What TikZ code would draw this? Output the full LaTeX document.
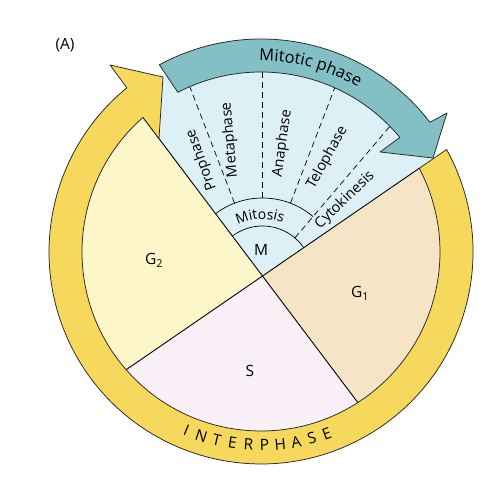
\documentclass[tikz,border=0pt]{standalone}
\usepackage{fontspec}
\setmainfont{Open Sans}
\usetikzlibrary{decorations.text, calc}
\definecolor{ringY}{RGB}{245,216,92}
\definecolor{tealA}{RGB}{130,192,198}
\definecolor{mBlue}{RGB}{221,240,246}
\definecolor{gOne}{RGB}{246,228,199}
\definecolor{gTwo}{RGB}{252,246,200}
\definecolor{sCol}{RGB}{249,241,247}
\begin{document}
\begin{tikzpicture}[x=1pt,y=1pt,
  outl/.style={draw=black!85, line width=0.75pt, line join=round},
  phase/.style={font=\fontsize{14.5}{16}\selectfont, inner sep=0pt},
  dashln/.style={dash pattern=on 6pt off 4pt, line width=0.7pt},
  pieline/.style={line width=0.9pt},
  lbl/.style={font=\fontsize{15.5}{17}\selectfont, inner sep=0pt}]
\useasboundingbox (0,0) rectangle (501,477);
\coordinate (C) at (261,225);
\coordinate (O) at (262.5,201);
\coordinate (G2tip) at ($(C)+(-118,134.6)$);
\coordinate (G1S) at ($(C)+(96.8,-150.5)$);
\coordinate (G2S) at ($(C)+(-134.8,-117.7)$);
\coordinate (MG1) at ($(C)+(158.2,83.7)$);
\coordinate (tailO) at ($(C)+(185.6,102.5)$);
\coordinate (frontB) at ($(C)+(-102,113.4)$);
\coordinate (frontT) at ($(C)+(-98,175)$);
\coordinate (barb) at ($(C)+(-151,187)$);
\coordinate (tip) at ($(C)+(172,94)$);
\coordinate (obarb) at ($(C)+(186,139)$);
\coordinate (ibarb) at ($(C)+(119,100)$);
% sectors
\fill[gTwo] (O) -- (G2tip) arc[start angle=131.24, end angle=221.13, radius=179] -- cycle;
\fill[sCol] (O) -- (G2S) arc[start angle=221.13, end angle=302.75, radius=179] -- cycle;
\fill[gOne] (O) -- (G1S) arc[start angle=302.75, end angle=387.88, radius=179] -- cycle;
\fill[mBlue] (O) -- (frontB) -- (frontT) -- ($(C)+(118:200)$) arc[start angle=118, end angle=35, radius=200] -- (tip) -- cycle;
% dashed phase dividers
\foreach \a in {111,90,69} \draw[dashln] ($(O)+(\a:78)$) -- ($(O)+(\a:210)$);
\draw[dashln] ($(O)+(49.6:50)$) -- ($(O)+(49.6:210)$);
% mitosis arcs
\draw[line width=0.7pt] ($(O)+(127:78)$) arc[start angle=127, end angle=49.6, radius=78];
\draw[line width=0.7pt] ($(O)+(127:50)$) arc[start angle=127, end angle=34.5, radius=50];
% pie lines
\draw[pieline] (G2tip) -- (G1S);
\draw[pieline] (G2S) -- (MG1);
% yellow interphase arrow
\draw[outl, fill=ringY] (tailO) arc[start angle=28.9, end angle=-230.75, radius=212] -- (barb) -- (frontT) -- (frontB) -- (G2tip) arc[start angle=-228.76, end angle=27.88, radius=179] -- cycle;
% teal mitotic arrow
\draw[outl, fill=tealA] ($(C)+(118.5:213)$) arc[start angle=118.5, end angle=37.5, radius=213] -- (obarb) -- (tip) -- (ibarb) -- ($(C)+(39.5:180)$) arc[start angle=39.5, end angle=117.5, radius=180] -- cycle;
% curved texts
\path[decorate, decoration={text along path, text align=center, text={|\fontsize{16.5}{18}\selectfont|Mitotic phase}}] ($(C)+(110:191)$) arc[start angle=110, end angle=40, radius=191];
\path[decorate, decoration={text along path, text align=center, text={|\fontsize{14}{15}\selectfont|Mitosis}}] ($(O)+(135:57)$) arc[start angle=135, end angle=50, radius=57];
% phase labels
\node[phase, rotate=110] (pro) at ($(O)+(117.7:131)$) {Prophase};
\node[phase, rotate=95] (meta) at ($(O)+(103.4:140)$) {Metaphase};
\node[phase, rotate=82] (ana) at ($(O)+(81.4:134)$) {Anaphase};
\node[phase, rotate=61] (telo) at ($(O)+(61.3:135)$) {Telophase};
\node[phase, rotate=44] (cyto) at ($(O)+(42.6:112)$) {Cytokinesis};
\node[lbl] (mlab) at (261,227) {M};
\node[lbl] (g2) at (154,217) {G\textsubscript{2}};
\node[lbl] (g1) at (360,184) {G\textsubscript{1}};
\node[lbl] (slab) at (250,106) {S};
\node[lbl] (alab) at (65,432) {(A)};
% INTERPHASE
\foreach \ch [count=\i from 0] in {I,N,T,E,R,P,H,A,S,E} {
  \pgfmathsetmacro{\ang}{-112.7+\i*4.74}
  \pgfmathsetmacro{\rot}{\ang+90}
  \node[lbl, rotate=\rot] (ip\i) at ($(C)+(\ang:193)$) {\ch};
}
\end{tikzpicture}
\end{document}
